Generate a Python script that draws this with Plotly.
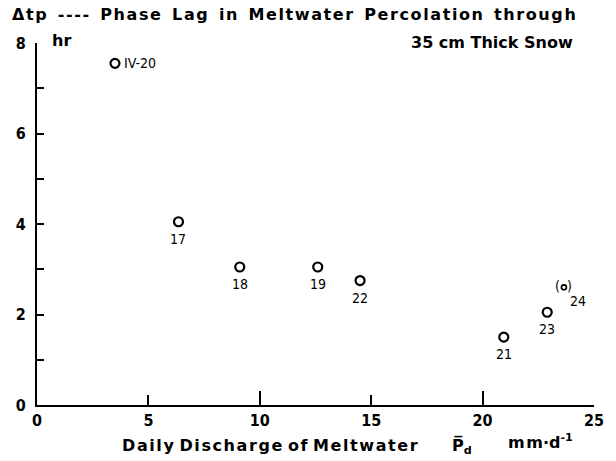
import plotly.graph_objects as go

# ---- data ----
labels = ["IV-20", "17", "18", "19", "22", "21", "23"]
discharge = [3.5, 6.35, 9.1, 12.6, 14.5, 20.95, 22.9]      # mm/d
phase_lag = [7.55, 4.05, 3.05, 3.05, 2.75, 1.5, 2.05]      # hr
paren_label = ["24"]
paren_x = [23.65]
paren_y = [2.6]

x_ticks = [0, 5, 10, 15, 20, 25]
x_long = [0, 10, 20]
y_major = [0, 2, 4, 6, 8]

W, H = 616, 461
L, R, T, B = 37, 12, 43, 56
PW, PH = W - L - R, H - T - B


def px(p):
    return (p - L) / PW


def py(p):
    return (H - B - p) / PH


HAIR = "\u200a"
NB = "\u00a0"


def track(s, gap=2, hair=True):
    words = s.split(" ")
    sep = HAIR if hair else ""
    return (NB * gap).join(sep.join(list(w)) for w in words)


BOLD = "DejaVu Sans"
COND = "DejaVu Sans Condensed"

fig = go.Figure()
fig.add_trace(go.Scatter(
    x=discharge, y=phase_lag, mode="markers",
    marker=dict(symbol="circle-open", size=9, color="black", line=dict(width=2.2, color="black")),
    hoverinfo="skip", showlegend=False))
fig.add_trace(go.Scatter(
    x=paren_x, y=paren_y, mode="markers",
    marker=dict(symbol="circle-open", size=5, color="black", line=dict(width=1.6, color="black")),
    hoverinfo="skip", showlegend=False))

lf = dict(family=COND, size=14, color="black")
ann = []
for lab, xv, yv in zip(labels, discharge, phase_lag):
    if lab == "IV-20":
        ann.append(dict(x=xv, y=yv, xref="x", yref="y", text=lab, showarrow=False,
                        xanchor="left", yanchor="middle", xshift=7, font=lf))
    else:
        ann.append(dict(x=xv, y=yv, xref="x", yref="y", text=lab, showarrow=False,
                        xanchor="center", yanchor="middle", yshift=-17, font=lf))
for lab, xv, yv in zip(paren_label, paren_x, paren_y):
    ann.append(dict(x=xv, y=yv, xref="x", yref="y", text="(", showarrow=False,
                    xanchor="center", yanchor="middle", xshift=-6, yshift=1, font=lf))
    ann.append(dict(x=xv, y=yv, xref="x", yref="y", text=")", showarrow=False,
                    xanchor="center", yanchor="middle", xshift=6, yshift=1, font=lf))
    ann.append(dict(x=xv, y=yv, xref="x", yref="y", text=lab, showarrow=False,
                    xanchor="center", yanchor="middle", xshift=14, yshift=-14, font=lf))

tf = dict(family=BOLD, size=16, color="black", weight="bold")
ann += [
    dict(x=px(10), y=py(15), xref="paper", yref="paper", xanchor="left", yanchor="middle",
         text=track("\u0394tp ---- Phase Lag in Meltwater Percolation through"),
         showarrow=False, font=tf),
    dict(x=px(585), y=py(42), xref="paper", yref="paper", xanchor="right", yanchor="middle",
         text=track("35 cm Thick Snow", gap=1, hair=False), showarrow=False, font=tf),
    dict(x=px(50), y=py(41), xref="paper", yref="paper", xanchor="left", yanchor="middle",
         text="hr", showarrow=False, font=tf),
    dict(x=px(274), y=py(445), xref="paper", yref="paper", xanchor="center", yanchor="middle",
         text=track("Daily Discharge of Meltwater", gap=1), showarrow=False, font=tf),
    dict(x=px(470), y=py(446), xref="paper", yref="paper", xanchor="center", yanchor="middle",
         text="P\u0305<sub>d</sub>", showarrow=False, font=tf),
    dict(x=px(550), y=py(441), xref="paper", yref="paper", xanchor="center", yanchor="middle",
         text="m" + HAIR + "m\u00b7d<sup>-1</sup>", showarrow=False, font=tf),
]

tickf = dict(family=COND, size=16, color="black", weight="bold")
fig.update_layout(
    width=W, height=H,
    margin=dict(l=L, r=R, t=T, b=B),
    paper_bgcolor="white", plot_bgcolor="white",
    annotations=ann,
    font=dict(family=BOLD, color="black"),
)
fig.update_xaxes(
    range=[0, 25], showgrid=False, zeroline=False,
    showline=True, linecolor="black", linewidth=2,
    ticks="inside", tickvals=x_ticks, ticktext=[str(v) for v in x_ticks],
    ticklen=10, tickwidth=2, tickcolor="black", tickfont=tickf,
    minor=dict(tickvals=x_long, ticks="inside", ticklen=14, tickwidth=2, tickcolor="black"),
)
fig.update_yaxes(
    range=[0, 8], showgrid=False, zeroline=False,
    showline=True, linecolor="black", linewidth=2,
    ticks="inside", tickvals=y_major, ticklen=7, tickwidth=2, tickcolor="black",
    tickfont=tickf, ticklabelstandoff=6,
    minor=dict(dtick=1, ticks="inside", ticklen=7, tickwidth=2, tickcolor="black"),
)

fig.write_html("out.html", config={"displayModeBar": False},
               post_script="document.body.style.margin='0';")
